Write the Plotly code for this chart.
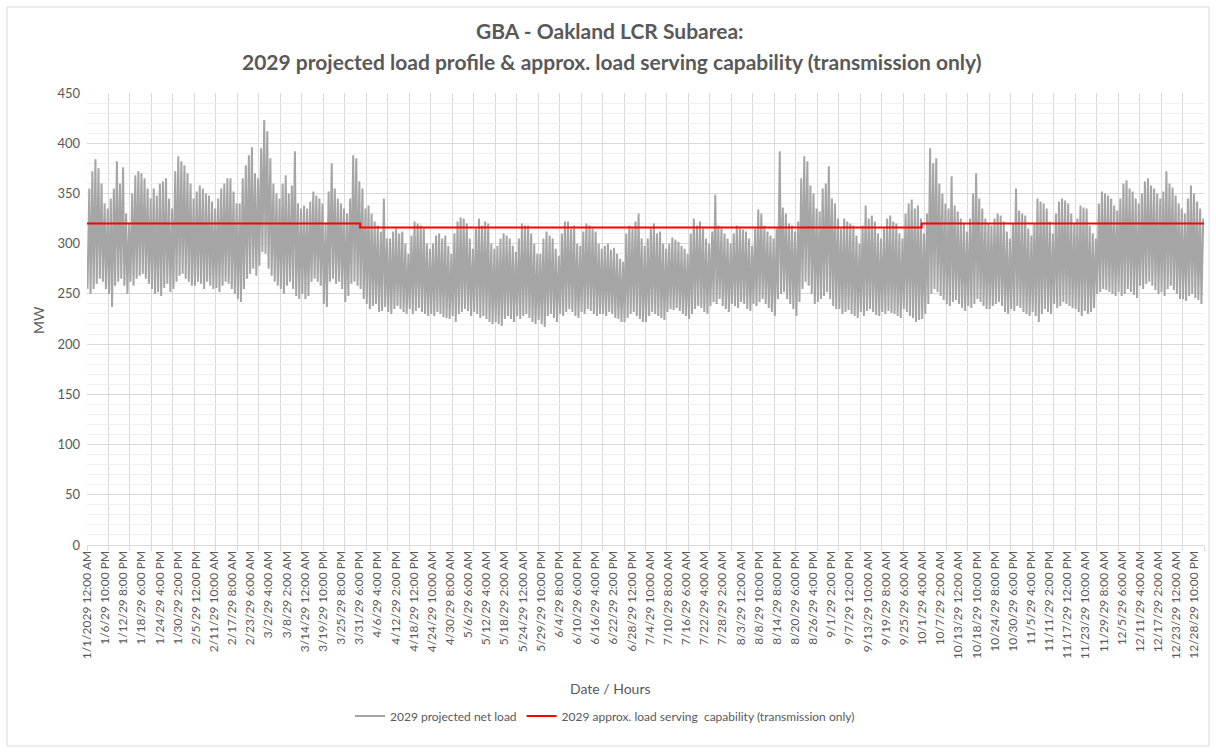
import plotly.graph_objects as go

# ---------------- data ----------------
# Daily peak / trough of the hourly projected net load (MW).
# 52 weeks x 7 days (Mon..Sun); data set contains 364 days (8736 hours).
net_load_daily_peak = [
    355, 372, 384, 375, 360, 340, 335,   # W1
    345, 355, 382, 360, 376, 330, 320,   # W2
    350, 368, 372, 370, 365, 355, 345,   # W3
    355, 348, 360, 362, 365, 345, 335,   # W4
    372, 387, 382, 378, 370, 360, 345,   # W5
    352, 358, 355, 350, 348, 342, 335,   # W6
    345, 355, 360, 365, 365, 352, 340,   # W7
    340, 365, 378, 388, 396, 370, 365,   # W8
    395, 423, 412, 385, 360, 350, 345,   # W9
    360, 368, 350, 358, 392, 340, 335,   # W10
    338, 335, 342, 352, 348, 345, 340,   # W11
    320, 352, 380, 355, 345, 340, 335,   # W12
    330, 345, 388, 385, 362, 355, 335,   # W13
    338, 330, 322, 318, 312, 345, 305,   # W14
    305, 312, 315, 310, 312, 300, 290,   # W15
    308, 322, 320, 318, 315, 300, 295,   # W16
    300, 308, 310, 305, 308, 298, 290,   # W17
    310, 322, 326, 325, 320, 305, 295,   # W18
    315, 325, 318, 322, 320, 300, 295,   # W19
    298, 305, 310, 308, 305, 298, 292,   # W20
    305, 320, 318, 318, 310, 300, 290,   # W21
    290, 305, 312, 308, 305, 295, 288,   # W22
    310, 322, 322, 315, 318, 300, 298,   # W23
    312, 320, 318, 315, 312, 300, 295,   # W24
    298, 300, 294, 296, 290, 285, 282,   # W25
    310, 318, 315, 322, 330, 305, 298,   # W26
    305, 315, 320, 310, 312, 300, 295,   # W27
    300, 306, 304, 302, 298, 295, 290,   # W28
    310, 325, 318, 322, 315, 305, 300,   # W29
    312, 349, 318, 315, 310, 305, 300,   # W30
    310, 318, 316, 314, 312, 305, 298,   # W31
    315, 334, 330, 318, 312, 308, 305,   # W32
    315, 392, 336, 330, 320, 318, 312,   # W33
    322, 365, 387, 382, 358, 350, 335,   # W34
    332, 355, 360, 377, 345, 340, 325,   # W35
    315, 325, 322, 320, 318, 308, 300,   # W36
    318, 338, 325, 328, 322, 310, 305,   # W37
    315, 325, 328, 322, 320, 310, 305,   # W38
    330, 340, 344, 335, 338, 325, 310,   # W39
    330, 395, 380, 385, 360, 350, 340,   # W40
    335, 367, 338, 332, 325, 320, 312,   # W41
    325, 350, 370, 345, 335, 325, 320,   # W42
    318, 325, 330, 328, 322, 312, 305,   # W43
    320, 355, 333, 330, 328, 315, 308,   # W44
    320, 345, 342, 340, 335, 322, 310,   # W45
    330, 342, 345, 343, 340, 330, 320,   # W46
    325, 338, 336, 335, 318, 310, 305,   # W47
    340, 352, 350, 348, 345, 338, 333,   # W48
    345, 360, 363, 355, 352, 345, 340,   # W49
    350, 362, 365, 358, 355, 350, 345,   # W50
    352, 372, 360, 356, 348, 340, 335,   # W51
    330, 345, 358, 350, 342, 335, 325,   # W52
]
net_load_daily_trough = [
    255, 250, 255, 260, 265, 262, 255,   # W1
    250, 237, 258, 262, 265, 258, 250,   # W2
    262, 258, 265, 268, 270, 265, 260,   # W3
    255, 250, 252, 248, 256, 260, 252,   # W4
    255, 262, 268, 270, 265, 262, 258,   # W5
    258, 262, 260, 255, 262, 258, 255,   # W6
    256, 252, 258, 262, 260, 255, 250,   # W7
    245, 242, 255, 265, 270, 275, 268,   # W8
    278, 292, 290, 275, 268, 262, 258,   # W9
    255, 250, 258, 262, 255, 248, 245,   # W10
    250, 245, 248, 262, 265, 262, 258,   # W11
    240, 237, 262, 265, 260, 262, 255,   # W12
    242, 248, 260, 262, 258, 255, 245,   # W13
    240, 235, 238, 240, 232, 233, 237,   # W14
    232, 230, 235, 238, 235, 232, 230,   # W15
    235, 230, 233, 236, 232, 230, 228,   # W16
    230, 228, 232, 230, 227, 226, 225,   # W17
    228, 222, 230, 232, 235, 233, 228,   # W18
    232, 230, 226, 228, 225, 222, 220,   # W19
    222, 220, 218, 225, 228, 225, 222,   # W20
    228, 225, 228, 230, 226, 222, 220,   # W21
    224, 220, 217, 228, 230, 226, 222,   # W22
    230, 228, 232, 235, 232, 228, 226,   # W23
    232, 230, 235, 233, 230, 228, 230,   # W24
    230, 228, 232, 230, 226, 225, 222,   # W25
    222, 226, 230, 232, 228, 225, 222,   # W26
    222, 228, 232, 230, 228, 226, 224,   # W27
    232, 235, 234, 236, 233, 230, 228,   # W28
    225, 230, 235, 238, 236, 232, 230,   # W29
    238, 242, 240, 245, 238, 235, 232,   # W30
    240, 238, 236, 242, 240, 235, 233,   # W31
    240, 238, 242, 245, 240, 236, 232,   # W32
    228, 245, 250, 252, 245, 240, 235,   # W33
    228, 242, 255, 262, 258, 250, 240,   # W34
    242, 245, 248, 252, 245, 238, 235,   # W35
    235, 230, 232, 234, 230, 228, 226,   # W36
    232, 228, 233, 235, 232, 229, 228,   # W37
    232, 230, 233, 231, 230, 228, 226,   # W38
    235, 232, 228, 226, 222, 224, 225,   # W39
    230, 240, 250, 255, 252, 248, 244,   # W40
    240, 238, 242, 244, 240, 236, 233,   # W41
    238, 236, 240, 245, 242, 238, 235,   # W42
    235, 238, 240, 242, 238, 232, 230,   # W43
    235, 233, 238, 236, 232, 230, 228,   # W44
    232, 228, 222, 230, 235, 232, 230,   # W45
    240, 236, 238, 242, 240, 238, 236,   # W46
    235, 232, 228, 233, 230, 232, 236,   # W47
    250, 252, 255, 254, 252, 250, 248,   # W48
    252, 248, 250, 255, 252, 249, 246,   # W49
    258, 255, 260, 262, 258, 254, 250,   # W50
    252, 248, 255, 258, 254, 250, 245,   # W51
    245, 243, 248, 250, 246, 244, 240,   # W52
]
trough_hour = 4    # hour of day of the daily minimum
peak_hour = 18     # hour of day of the daily maximum
total_hours = 8736

# Load serving capability (transmission only), step function (hour index, MW)
capability_hours = [0, 2136, 6528, 8735]
capability_mw = [320, 316, 320, 320]

# Category axis labels (every 142nd hour)
tick_labels = [
    "1/1/2029 12:00 AM", "1/6/29 10:00 PM", "1/12/29 8:00 PM", "1/18/29 6:00 PM",
    "1/24/29 4:00 PM", "1/30/29 2:00 PM", "2/5/29 12:00 PM", "2/11/29 10:00 AM",
    "2/17/29 8:00 AM", "2/23/29 6:00 AM", "3/2/29 4:00 AM", "3/8/29 2:00 AM",
    "3/14/29 12:00 AM", "3/19/29 10:00 PM", "3/25/29 8:00 PM", "3/31/29 6:00 PM",
    "4/6/29 4:00 PM", "4/12/29 2:00 PM", "4/18/29 12:00 PM", "4/24/29 10:00 AM",
    "4/30/29 8:00 AM", "5/6/29 6:00 AM", "5/12/29 4:00 AM", "5/18/29 2:00 AM",
    "5/24/29 12:00 AM", "5/29/29 10:00 PM", "6/4/29 8:00 PM", "6/10/29 6:00 PM",
    "6/16/29 4:00 PM", "6/22/29 2:00 PM", "6/28/29 12:00 PM", "7/4/29 10:00 AM",
    "7/10/29 8:00 AM", "7/16/29 6:00 AM", "7/22/29 4:00 AM", "7/28/29 2:00 AM",
    "8/3/29 12:00 AM", "8/8/29 10:00 PM", "8/14/29 8:00 PM", "8/20/29 6:00 PM",
    "8/26/29 4:00 PM", "9/1/29 2:00 PM", "9/7/29 12:00 PM", "9/13/29 10:00 AM",
    "9/19/29 8:00 AM", "9/25/29 6:00 AM", "10/1/29 4:00 AM", "10/7/29 2:00 AM",
    "10/13/29 12:00 AM", "10/18/29 10:00 PM", "10/24/29 8:00 PM", "10/30/29 6:00 PM",
    "11/5/29 4:00 PM", "11/11/29 2:00 PM", "11/17/29 12:00 PM", "11/23/29 10:00 AM",
    "11/29/29 8:00 AM", "12/5/29 6:00 AM", "12/11/29 4:00 AM", "12/17/29 2:00 AM",
    "12/23/29 12:00 AM", "12/28/29 10:00 PM",
]
label_interval = 142
gridline_interval = 168

# ---------------- build ----------------
load_x, load_y = [], []
for d, (lo, hi) in enumerate(zip(net_load_daily_trough, net_load_daily_peak)):
    load_x += [d * 24 + trough_hour, d * 24 + peak_hour]
    load_y += [lo, hi]

tick_vals = [i * label_interval for i in range(len(tick_labels))]

TXT = "#595959"
GRID = "#D9D9D9"
FONT = "Lato"

fig = go.Figure()
fig.add_trace(go.Scatter(
    x=load_x, y=load_y, mode="lines", name="2029 projected net load",
    line=dict(color="#A5A5A5", width=2),
))
fig.add_trace(go.Scatter(
    x=capability_hours, y=capability_mw, mode="lines",
    name="2029 approx. load serving  capability (transmission only)",
    line=dict(color="#FF0000", width=2, shape="hv"),
))

L, R, T, B = 87, 12, 93, 208
W, H = 1216, 753
pw, ph = W - L - R, H - T - B

def px(x):
    return (x - L) / pw

def py(y):
    return (H - B - y) / ph

fig.update_layout(
    width=W, height=H,
    margin=dict(l=L, r=R, t=T, b=B, autoexpand=False),
    paper_bgcolor="white", plot_bgcolor="white",
    font=dict(family=FONT, size=12, color=TXT),
    showlegend=True,
    legend=dict(orientation="h", x=px(605), y=py(716), xanchor="center", yanchor="middle",
                font=dict(size=12, color=TXT), itemwidth=30, bgcolor="rgba(0,0,0,0)"),
    xaxis=dict(
        range=[0, total_hours], tickmode="array", tickvals=tick_vals, ticktext=tick_labels,
        tickangle=-90, showgrid=False, zeroline=False, ticks="",
        showline=True, linecolor=GRID, linewidth=1,
        tickfont=dict(size=12, color=TXT),
        minor=dict(tickmode="linear", tick0=0, dtick=gridline_interval, showgrid=True,
                   gridcolor=GRID, gridwidth=1, ticks="outside", ticklen=5, tickcolor=GRID),
    ),
    yaxis=dict(
        range=[0, 450], dtick=50, tick0=0, showgrid=True, gridcolor=GRID, gridwidth=1,
        zeroline=False, showline=False, ticks="", tickfont=dict(size=13, color=TXT),
        ticklabelstandoff=6,
        minor=dict(dtick=10, showgrid=True, gridcolor="#EFEFEF", gridwidth=1),
    ),
    annotations=[
        dict(text="<b>GBA - Oakland LCR Subarea:</b>", x=px(610), y=py(30), xref="paper", yref="paper",
             showarrow=False, font=dict(size=21, color=TXT, family=FONT), xanchor="center", yanchor="middle"),
        dict(text="<b>2029 projected load profile & approx. load serving capability (transmission only)</b>",
             x=px(612), y=py(62), xref="paper", yref="paper",
             showarrow=False, font=dict(size=21, color=TXT, family=FONT), xanchor="center", yanchor="middle"),
        dict(text="Date / Hours", x=px(610), y=py(688), xref="paper", yref="paper",
             showarrow=False, font=dict(size=14, color=TXT), xanchor="center", yanchor="middle"),
        dict(text="MW", x=px(38), y=py(320), xref="paper", yref="paper", textangle=-90,
             showarrow=False, font=dict(size=14, color=TXT), xanchor="center", yanchor="middle"),
    ],
    shapes=[
        dict(type="rect", xref="paper", yref="paper", x0=px(7), x1=px(1209), y0=py(746), y1=py(7),
             line=dict(color=GRID, width=1), fillcolor="rgba(0,0,0,0)", layer="below"),
    ],
)

fig.write_html("out.html",
               config={"displayModeBar": False},
               post_script="document.body.style.margin='0';document.body.style.padding='0';")
